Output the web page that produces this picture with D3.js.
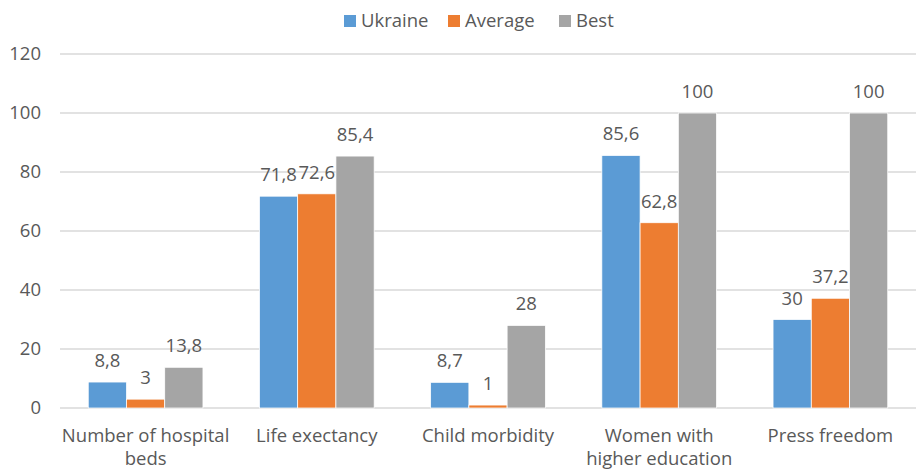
<!DOCTYPE html>
<html>
<head>
<meta charset="utf-8">
<script src="https://cdn.jsdelivr.net/npm/d3@7"></script>
<style>
  body { margin: 0; background: #fff; }
  svg { font-family: "Open Sans", sans-serif; }
</style>
</head>
<body>
<svg id="chart"></svg>
<script>
// Data
const categories = ["Number of hospital beds", "Life exectancy", "Child morbidity", "Women with higher education", "Press freedom"];
const categoryLines = [["Number of hospital", "beds"], ["Life exectancy"], ["Child morbidity"], ["Women with", "higher education"], ["Press freedom"]];
const seriesNames = ["Ukraine", "Average", "Best"];
const ukraine = [8.8, 71.8, 8.7, 85.6, 30];
const average = [3, 72.6, 1, 62.8, 37.2];
const best = [13.8, 85.4, 28, 100, 100];
const yTicks = [0, 20, 40, 60, 80, 100, 120];

const colors = {"Ukraine": "#5b9bd5", "Average": "#ed7d31", "Best": "#a5a5a5"};
const seriesValues = [ukraine, average, best];

// Configuration
const width = 916;
const height = 470;
const margin = {top: 54, right: 0, bottom: 62, left: 60};
const textColor = "#595959";
const fontSize = 18.5;

const svg = d3.select("#chart")
    .attr("width", width)
    .attr("height", height);

const x0 = d3.scaleBand()
    .domain(categories)
    .range([margin.left, width - margin.right])
    .paddingInner(0.33)
    .paddingOuter(0.165);

const x1 = d3.scaleBand()
    .domain(seriesNames)
    .range([0, x0.bandwidth()]);

const y = d3.scaleLinear()
    .domain([0, 120])
    .range([height - margin.bottom, margin.top]);

// Gridlines
svg.append("g")
    .selectAll("line")
    .data(yTicks)
    .join("line")
    .attr("x1", margin.left)
    .attr("x2", width - margin.right)
    .attr("y1", d => y(d))
    .attr("y2", d => y(d))
    .attr("stroke", "#d9d9d9")
    .attr("stroke-width", 1.3);

// Y tick labels
svg.append("g")
    .selectAll("text")
    .data(yTicks)
    .join("text")
    .attr("x", 41)
    .attr("y", d => y(d))
    .attr("dy", "0.35em")
    .attr("text-anchor", "end")
    .attr("fill", textColor)
    .attr("font-size", fontSize)
    .text(d => d);

// Bars
const groups = svg.append("g")
    .selectAll("g")
    .data(categories)
    .join("g")
    .attr("transform", d => `translate(${x0(d)},0)`);

const barData = (cat, i) => seriesNames.map((s, j) => ({series: s, value: seriesValues[j][i]}));

groups.selectAll("rect")
    .data(barData)
    .join("rect")
    .attr("x", d => x1(d.series))
    .attr("width", x1.bandwidth())
    .attr("y", d => y(d.value))
    .attr("height", d => y(0) - y(d.value))
    .attr("fill", d => colors[d.series])
    .attr("stroke", "#fff")
    .attr("stroke-width", 0.75);

// Value labels
groups.selectAll("text")
    .data(barData)
    .join("text")
    .attr("x", d => x1(d.series) + x1.bandwidth() / 2)
    .attr("y", d => y(d.value) - 15)
    .attr("text-anchor", "middle")
    .attr("fill", textColor)
    .attr("font-size", fontSize)
    .text(d => String(d.value).replace(".", ","));

// Category labels
categories.forEach((cat, i) => {
    const t = svg.append("text")
        .attr("x", x0(cat) + x0.bandwidth() / 2)
        .attr("y", 442)
        .attr("text-anchor", "middle")
        .attr("fill", textColor)
        .attr("font-size", fontSize);
    categoryLines[i].forEach((line, k) => {
        t.append("tspan")
            .attr("x", x0(cat) + x0.bandwidth() / 2)
            .attr("dy", k === 0 ? 0 : 23)
            .text(line);
    });
});

// Legend
const legendX = [344, 448, 559];
const legend = svg.append("g")
    .selectAll("g")
    .data(seriesNames)
    .join("g")
    .attr("transform", (d, i) => `translate(${legendX[i]},15)`);

legend.append("rect")
    .attr("width", 12)
    .attr("height", 12)
    .attr("fill", d => colors[d]);

legend.append("text")
    .attr("x", 17)
    .attr("y", 6)
    .attr("dy", "0.35em")
    .attr("fill", textColor)
    .attr("font-size", fontSize)
    .text(d => d);
</script>
</body>
</html>
